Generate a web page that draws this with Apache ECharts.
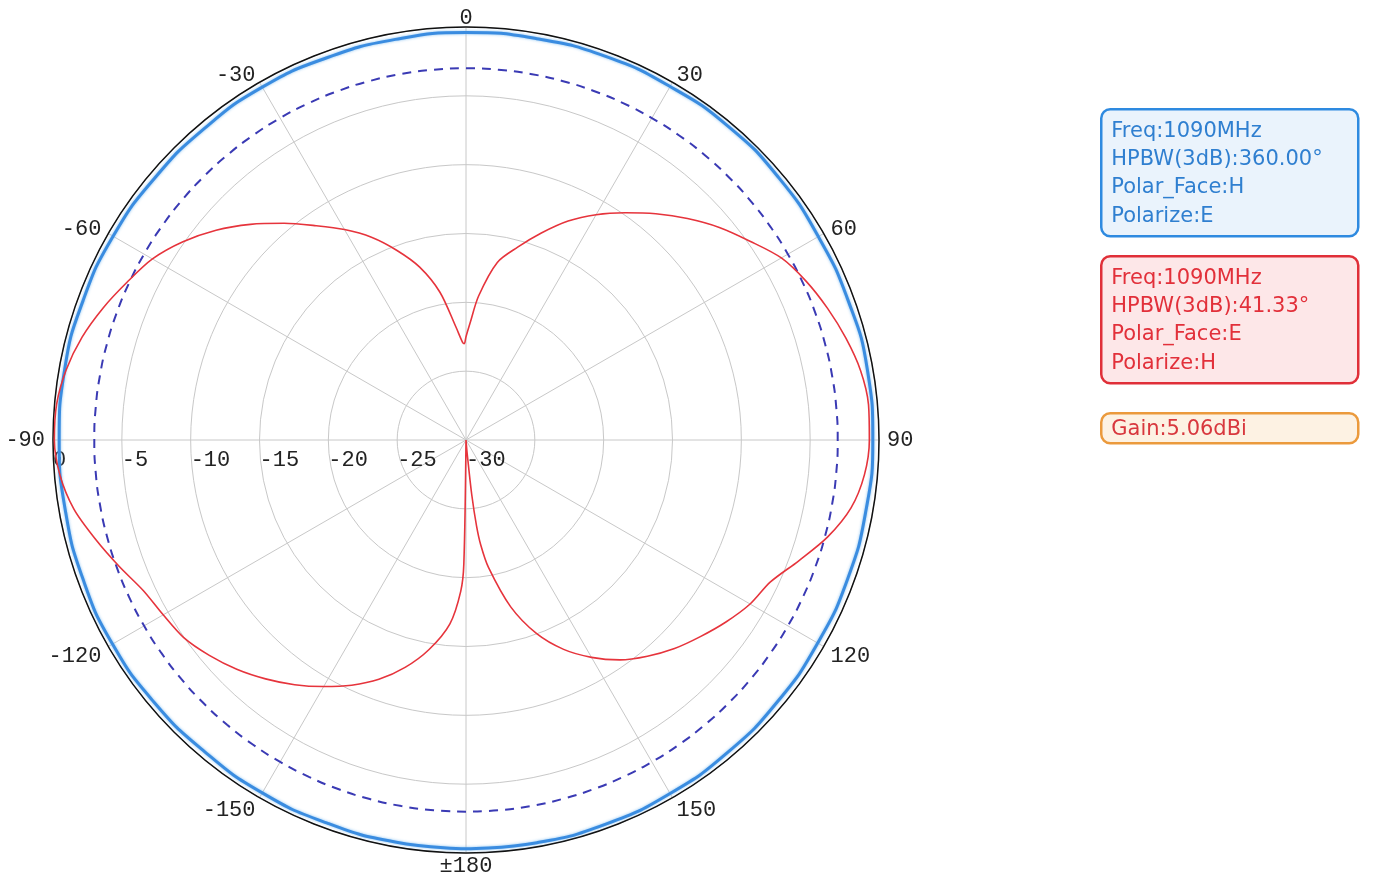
<!DOCTYPE html>
<html><head><meta charset="utf-8">
<script src="https://cdn.jsdelivr.net/npm/echarts@6/dist/echarts.min.js"></script>
<style>html,body{margin:0;padding:0;background:#fff}#c{width:1375px;height:883px}</style>
</head><body><div id="c"></div>
<script>
// ---- data (angles in degrees, 0 = top, clockwise; gains in dB) ----
const redAngles = [-180,-179,-178,-175,-170,-165,-160,-155,-150,-145,-140,-135,-130,-125,-120,-115,-110,-105,-100,-95,-90,-85,-80,-75,-70,-65,-60,-55,-50,-45,-40,-35,-30,-25,-20,-15,-10,-5,-2,-1,0,2,5,10,15,20,25,30,35,40,45,50,55,60,65,70,75,80,85,90,95,100,105,110,115,120,125,130,135,140,145,150,155,160,165,170,172,173,174,175,176,178,180];
const redGain = [-30,-21,-19,-16.6,-14.55,-12.9,-11.5,-10.35,-9.32,-8.3,-7.35,-6.45,-5.66,-4.97,-4.6,-4.13,-3.18,-2.14,-1.08,-0.4,-0.1,-0.15,-0.52,-1.13,-1.95,-2.85,-3.7,-4.9,-6.3,-7.85,-9.45,-11.0,-12.35,-13.75,-15.35,-17.0,-19.1,-21.8,-22.9,-23.0,-22.5,-21.5,-19.5,-16.9,-15.5,-14.0,-12.45,-11.1,-9.85,-8.55,-7.25,-5.98,-4.82,-3.55,-2.73,-2.05,-1.43,-0.9,-0.65,-0.7,-0.95,-1.6,-2.8,-4.3,-5.6,-6.17,-6.95,-7.78,-8.58,-9.5,-10.5,-11.77,-13.22,-15.05,-17.45,-20.6,-22.3,-23.7,-26,-29,-30,-30,-30];

const blueAngles = [-180,-170,-160,-150,-140,-130,-120,-110,-100,-90,-80,-70,-60,-50,-40,-30,-20,-10,0,10,20,30,40,50,60,70,80,90,100,110,120,130,140,150,160,170,180];
const blueGain = [-0.3,-0.35,-0.4,-0.4,-0.45,-0.4,-0.35,-0.4,-0.45,-0.45,-0.4,-0.4,-0.4,-0.45,-0.45,-0.4,-0.45,-0.45,-0.4,-0.4,-0.35,-0.35,-0.3,-0.35,-0.45,-0.45,-0.4,-0.45,-0.5,-0.5,-0.5,-0.45,-0.4,-0.35,-0.3,-0.3,-0.3];

const halfPowerLevel = -3;   // dashed -3 dB reference ring

const radiusMin = -30, radiusMax = 0, radiusStep = 5;
const angleStep = 30;

const blueInfo = ['Freq:1090MHz', 'HPBW(3dB):360.00°', 'Polar_Face:H', 'Polarize:E'];
const redInfo  = ['Freq:1090MHz', 'HPBW(3dB):41.33°', 'Polar_Face:E', 'Polarize:H'];
const gainInfo = 'Gain:5.06dBi';

// ---- build ----
// angle axis runs from -90 (left) clockwise to 270; angles below -90 are wrapped
function toAxisAngle(a) { return a < -90 ? a + 360 : a; }
const redData = redAngles.map((a, i) => [redGain[i], toAxisAngle(a)]);
const blueData = blueAngles.map((a, i) => [blueGain[i], toAxisAngle(a)]);
const ringData = [];
for (let a = -180; a <= 180; a += 5) ringData.push([halfPowerLevel, toAxisAngle(a)]);

const labelFont = '"Liberation Mono", monospace';
const infoFont = '"DejaVu Sans", sans-serif';

function infoBox(top, height, lines, stroke, fill, color) {
  return {
    type: 'group', left: 1100, top: top,
    children: [
      { type: 'rect', shape: { x: 0, y: 0, width: 257, height: height, r: 9 },
        style: { fill: fill, stroke: stroke, lineWidth: 2.5 } },
      { type: 'text', x: 10, y: height > 40 ? 8 : 2,
        style: { text: lines.join('\n'), font: '21px ' + infoFont, fill: color, lineHeight: 28.3 } }
    ]
  };
}

const labelRich = {
  u: { fontFamily: labelFont, fontSize: 22, color: '#222', lineHeight: 1 },
  l: { fontFamily: labelFont, fontSize: 22, color: '#222', lineHeight: 11 }
};

const chart = echarts.init(document.getElementById('c'), null, { renderer: 'canvas' });
chart.setOption({
  animation: false,
  backgroundColor: '#ffffff',
  polar: { center: [466, 440], radius: 413 },
  angleAxis: {
    type: 'value', min: -90, max: 270, interval: angleStep,
    startAngle: 180, clockwise: true,
    axisLine: { show: true, lineStyle: { color: '#111', width: 1.5 } },
    axisTick: { show: false },
    axisLabel: {
      color: '#222', fontFamily: labelFont, fontSize: 22, margin: 8, rich: labelRich,
      formatter: function (v) {
        if (v === 270) return '';
        if (v === 180) return '{l|±180}';
        const t = String(v > 180 ? v - 360 : v);
        if (v > -90 && v < 90) return '{u|' + t + '}';
        if (v > 90) return '{l|' + t + '}';
        return t;
      }
    },
    splitLine: { show: true, lineStyle: { color: '#c8c8c8', width: 1 } }
  },
  radiusAxis: {
    type: 'value', min: radiusMin, max: radiusMax, interval: radiusStep,
    axisLine: { show: false },
    axisTick: { show: false },
    axisLabel: { color: '#222', fontFamily: labelFont, fontSize: 22, align: 'left', verticalAlign: 'top', margin: 9 },
    splitLine: { show: true, lineStyle: { color: '#c8c8c8', width: 1 } }
  },
  series: [
    { type: 'line', coordinateSystem: 'polar', data: ringData, symbol: 'none', smooth: true,
      lineStyle: { color: '#3a3ab4', width: 2, type: [9, 7] }, z: 2 },
    { type: 'line', coordinateSystem: 'polar', data: blueData, symbol: 'none', smooth: true,
      lineStyle: { color: '#3a8ce0', width: 3, shadowColor: 'rgba(120,185,240,0.9)', shadowBlur: 3 }, z: 3 },
    { type: 'line', coordinateSystem: 'polar', data: redData, symbol: 'none', smooth: 0.3,
      lineStyle: { color: '#e6343c', width: 1.6 }, z: 4 }
  ],
  graphic: [
    infoBox(108, 127, blueInfo, '#2e8ae0', '#eaf3fc', '#2f7fd0'),
    infoBox(255, 127, redInfo, '#e02f38', '#fde7e8', '#e2303a'),
    infoBox(412, 30, [gainInfo], '#eb9a3c', '#fdf2e3', '#d8383e')
  ]
});
</script>
</body></html>
